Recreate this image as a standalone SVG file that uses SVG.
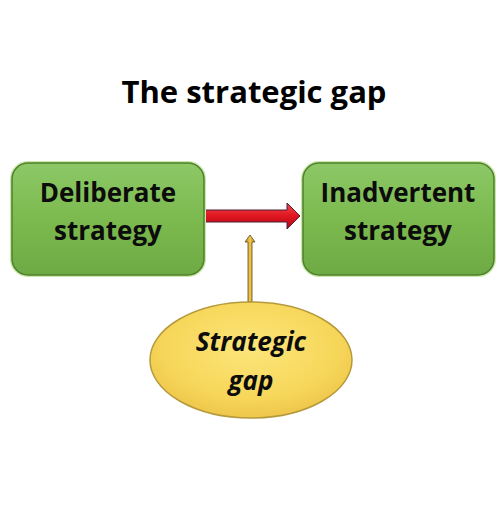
<svg xmlns="http://www.w3.org/2000/svg" width="500" height="527" viewBox="0 0 500 527">
<defs>
<linearGradient id="gGreen" x1="0" y1="0" x2="0" y2="1">
<stop offset="0" stop-color="#8cc866"/>
<stop offset="0.5" stop-color="#7cba4f"/>
<stop offset="1" stop-color="#6eaa44"/>
</linearGradient>
<radialGradient id="gYellow" cx="0.5" cy="0.4" r="0.6">
<stop offset="0" stop-color="#fbe57a"/>
<stop offset="0.7" stop-color="#f7d75a"/>
<stop offset="1" stop-color="#eec64a"/>
</radialGradient>
<linearGradient id="gRed" x1="0" y1="0" x2="0" y2="1">
<stop offset="0" stop-color="#f04a4a"/>
<stop offset="0.5" stop-color="#e01520"/>
<stop offset="1" stop-color="#b00a14"/>
</linearGradient>
<linearGradient id="gGold" x1="0" y1="0" x2="1" y2="0">
<stop offset="0" stop-color="#b88a1c"/>
<stop offset="0.5" stop-color="#f2c850"/>
<stop offset="1" stop-color="#b88a1c"/>
</linearGradient>
</defs>
<style>
.box{fill:url(#gGreen);stroke:#4f7f2c;stroke-width:1.5}
.glow{fill:none;stroke:#c9e8a8;stroke-width:4}
.lbl{font-family:"Open Sans","Liberation Sans",sans-serif;font-weight:bold;font-size:26px;fill:#0c0c0c;text-anchor:middle}
.title{font-family:"Open Sans","Liberation Sans",sans-serif;font-weight:bold;font-size:31px;fill:#000;text-anchor:middle}
</style>
<rect width="500" height="527" fill="#ffffff"/>
<text class="title" x="254" y="103">The strategic gap</text>
<g id="connectors">
<path d="M204,210 L287,210 L287,203 L300,216 L287,229 L287,222 L204,222 Z" fill="url(#gRed)" stroke="#4a1f3a" stroke-width="1"/>
<path d="M248,302 L248,242 L245,242 L250,235 L255,242 L252,242 L252,302 Z" fill="url(#gGold)" stroke="#5a4a1a" stroke-width="0.8"/>
</g>
<g id="deliberate">
<rect class="glow" x="12" y="163" width="192" height="112" rx="16"/>
<rect class="box" x="12" y="163" width="192" height="112" rx="16"/>
<text class="lbl" x="108" y="202">Deliberate</text>
<text class="lbl" x="108" y="240">strategy</text>
</g>
<g id="inadvertent">
<rect class="glow" x="303" y="163" width="191" height="112" rx="16"/>
<rect class="box" x="303" y="163" width="191" height="112" rx="16"/>
<text class="lbl" x="398" y="202">Inadvertent</text>
<text class="lbl" x="398" y="240">strategy</text>
</g>
<g id="gap">
<ellipse cx="251" cy="360" rx="101" ry="58" fill="url(#gYellow)" stroke="#b59a3c" stroke-width="1.5"/>
<text class="lbl" x="251" y="351" font-style="italic">Strategic</text>
<text class="lbl" x="251" y="390" font-style="italic">gap</text>
</g>
</svg>
